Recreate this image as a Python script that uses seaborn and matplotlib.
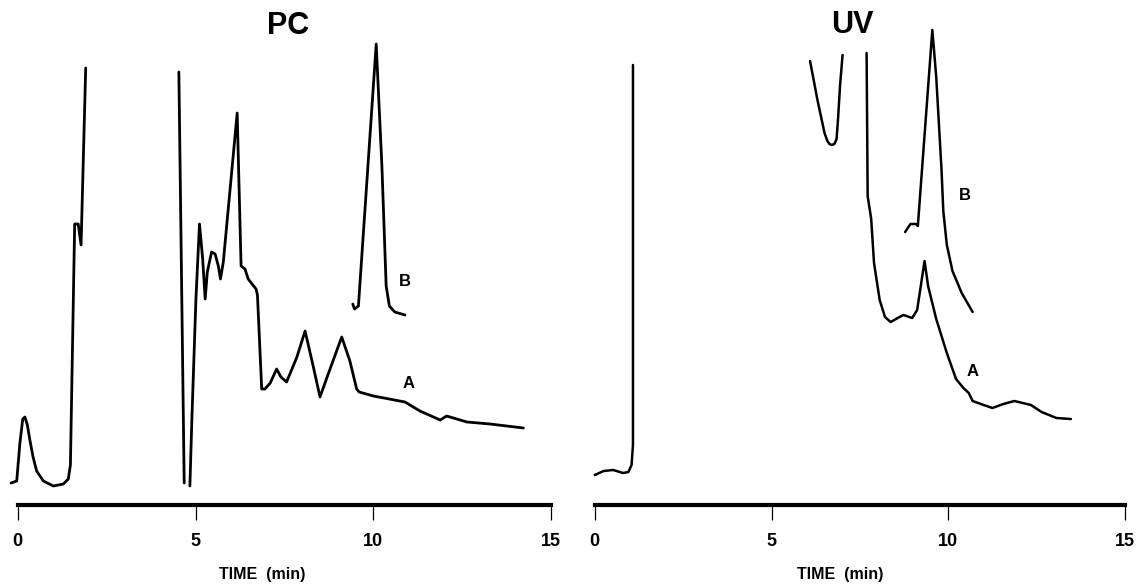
import matplotlib
matplotlib.use("Agg")
import matplotlib.pyplot as plt
import seaborn as sns
import pandas as pd

# ===================== 1. 数据（从原图读取，单位：min / 任意信号） =====================
# PC 检测器，曲线 A 分三段（中间离开量程），曲线 B 一段
pc_a1_time = [-0.19, -0.03, 0.06, 0.14, 0.20, 0.27, 0.34, 0.43, 0.53, 0.72, 1.00, 1.28, 1.42, 1.48, 1.60, 1.70, 1.78, 1.91]
pc_a1_signal = [22, 24, 62, 86, 88, 80, 65, 48, 34, 24, 19, 21, 26, 40, 281, 281, 260, 437]

pc_a2_time = [4.53, 4.68]
pc_a2_signal = [433, 22]

pc_a3_time = [4.84, 4.90, 5.01, 5.11, 5.20, 5.27, 5.33, 5.45, 5.55, 5.64, 5.70, 5.78, 6.17, 6.28,
              6.39, 6.48, 6.70, 6.74, 6.86, 6.95, 7.10, 7.28, 7.40, 7.56, 7.85, 8.08, 8.30, 8.50,
              8.70, 9.11, 9.34, 9.53, 9.60, 10.00, 10.89, 11.31, 11.88, 12.06, 12.63, 13.28, 14.22]
pc_a3_signal = [19, 90, 206, 281, 246, 206, 233, 253, 251, 239, 226, 243, 392, 239,
                236, 226, 216, 210, 116, 116, 122, 136, 128, 123, 148, 174, 140, 108,
                128, 168, 144, 116, 113, 109, 103, 94, 85, 89, 83, 81, 77]

pc_b_time = [9.42, 9.47, 9.58, 10.08, 10.24, 10.36, 10.45, 10.60, 10.89]
pc_b_signal = [201, 196, 199, 461, 339, 219, 199, 193, 190]

# UV 检测器
uv_a1_time = [0.00, 0.25, 0.52, 0.80, 0.95, 1.04, 1.08, 1.08]
uv_a1_signal = [30, 34, 35, 32, 33, 40, 60, 440]

uv_u_time = [6.09, 6.30, 6.50, 6.58, 6.64, 6.70, 6.78, 6.84, 6.88, 6.94, 7.01]
uv_u_signal = [444, 405, 372, 364, 361, 360, 361, 366, 385, 420, 450]

uv_a2_time = [7.69, 7.72, 7.82, 7.90, 8.06, 8.21, 8.37, 8.57, 8.73, 8.98, 9.12, 9.33, 9.43, 9.66,
              9.96, 10.22, 10.43, 10.58, 10.69, 11.00, 11.25, 11.56, 11.87, 12.34, 12.64, 13.06, 13.47]
uv_a2_signal = [452, 309, 286, 242, 205, 188, 183, 187, 190, 187, 195, 244, 219, 186,
                152, 126, 117, 112, 104, 100, 97, 101, 104, 100, 93, 87, 86]

uv_b_time = [8.78, 8.93, 9.09, 9.14, 9.24, 9.55, 9.66, 9.81, 9.86, 9.96, 10.12, 10.38, 10.69]
uv_b_signal = [273, 281, 281, 279, 327, 475, 428, 335, 294, 260, 234, 212, 193]

tick_values = [0, 5, 10, 15]
tick_labels = ["0", "5", "10", "15"]
x_label = "TIME  (min)"

# 标题与曲线标注 (文字, 时间, 信号)
pc_title = ("PC", 7.60, 479)
uv_title = ("UV", 7.28, 480)
pc_curve_labels = [("B", 10.89, 223), ("A", 10.99, 121)]
uv_curve_labels = [("B", 10.48, 309), ("A", 10.69, 134)]


def build_frame(segments):
    rows = []
    for name, t, s in segments:
        for ti, si in zip(t, s):
            rows.append({"seg": name, "time": ti, "signal": si})
    return pd.DataFrame(rows)


pc_df = build_frame([("A1", pc_a1_time, pc_a1_signal), ("A2", pc_a2_time, pc_a2_signal),
                     ("A3", pc_a3_time, pc_a3_signal), ("B", pc_b_time, pc_b_signal)])
uv_df = build_frame([("A1", uv_a1_time, uv_a1_signal), ("U", uv_u_time, uv_u_signal),
                     ("A2", uv_a2_time, uv_a2_signal), ("B", uv_b_time, uv_b_signal)])

# ===================== 2. 画图 =====================
sns.set_theme(style="white")
plt.rcParams["font.family"] = ["Liberation Sans", "DejaVu Sans"]
plt.rcParams["text.color"] = "black"
plt.rcParams["xtick.color"] = "black"
plt.rcParams["axes.labelcolor"] = "black"

W, H = 1143, 585
fig = plt.figure(figsize=(W / 100, H / 100), dpi=100)
ax_pc = fig.add_axes([0 / W, 80 / H, 570 / W, 505 / H])
ax_uv = fig.add_axes([575 / W, 80 / H, 568 / W, 505 / H])

panels = [
    (ax_pc, pc_df, (-0.50, 15.53), pc_title, pc_curve_labels, 6.86, 2.0),
    (ax_uv, uv_df, (-0.56, 15.51), uv_title, uv_curve_labels, 6.93, 1.8),
]

for ax, df, xlim, title, curve_labels, xlabel_pos, lw in panels:
    sns.lineplot(data=df, x="time", y="signal", units="seg", estimator=None, sort=False,
                 color="black", linewidth=lw, legend=False, ax=ax)
    ax.set_xlim(*xlim)
    ax.set_ylim(0, 505)

    for side in ["left", "right", "top"]:
        ax.spines[side].set_visible(False)
    ax.spines["bottom"].set_color("black")
    ax.spines["bottom"].set_linewidth(3)
    ax.spines["bottom"].set_bounds(0, 15)

    ax.set_yticks([])
    ax.set_ylabel("")
    ax.set_xticks(tick_values)
    ax.set_xticklabels(tick_labels, fontsize=13, fontweight="bold")
    ax.tick_params(axis="x", direction="out", length=11, width=0.9, color="black", pad=9, bottom=True)

    ax.set_xlabel(x_label, fontsize=11.5, fontweight="bold")
    ax.xaxis.set_label_coords(xlabel_pos, -0.123, transform=ax.get_xaxis_transform())

    text, tx, ty = title
    ax.text(tx, ty, text, ha="center", va="center", fontsize=22, fontweight="heavy")
    for lab, lx, ly in curve_labels:
        ax.text(lx, ly, lab, ha="center", va="center", fontsize=12, fontweight="bold")

fig.savefig("out.png", dpi=100)
